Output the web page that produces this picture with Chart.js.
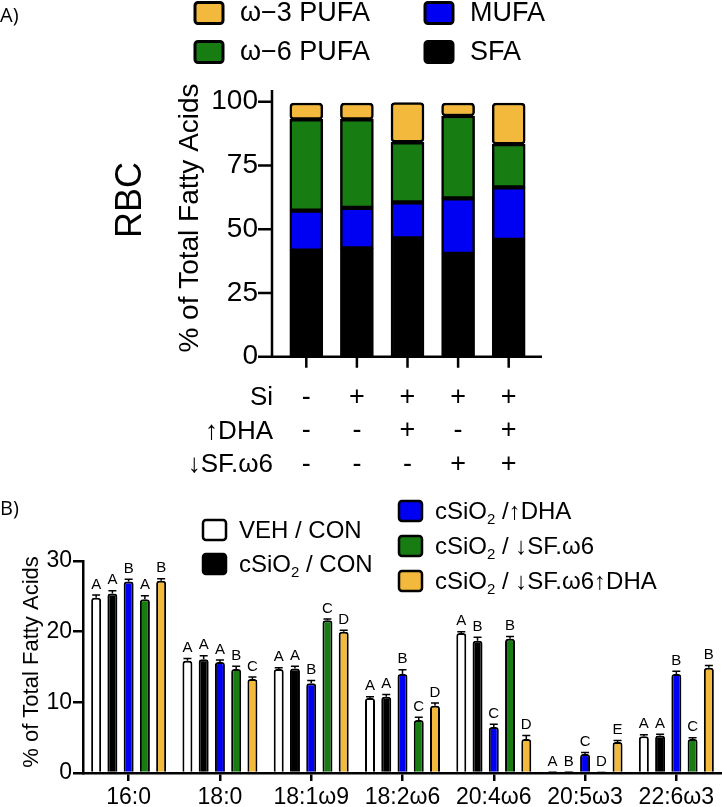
<!DOCTYPE html>
<html>
<head>
<meta charset="utf-8">
<script src="https://cdn.jsdelivr.net/npm/chart.js@4.4.1/dist/chart.umd.min.js"></script>
<style>
  body { margin: 0; background: #fff; }
  #wrap { position: relative; width: 722px; height: 807px; }
  canvas { position: absolute; left: 0; top: 0; }
</style>
</head>
<body>
<div id="wrap">
  <canvas id="chartA" width="722" height="807"></canvas>
  <canvas id="chartB" width="722" height="807"></canvas>
</div>
<script>
// ---- panel A: RBC fatty acid classes (stacked %) ----
const siRow  = ['-', '+', '+', '+', '+'];
const dhaRow = ['-', '-', '+', '-', '+'];
const sfRow  = ['-', '-', '-', '+', '+'];
const rowNames = ['Si', '\u2191DHA', '\u2193SF.\u03c96'];
const sfa  = [41.6, 42.5, 46.4, 40.3, 45.8];
const mufa = [15.7, 15.9, 14.1, 21.8, 20.6];
const n6   = [35.8, 34.7, 23.6, 32.3, 17.0];
const n3   = [6.4, 6.4, 15.6, 5.1, 16.1];
const aTicks = [0, 25, 50, 75, 100];

// ---- panel B: individual fatty acids ----
const fattyAcids = ['16:0', '18:0', '18:1\u03c99', '18:2\u03c96', '20:4\u03c96', '20:5\u03c93', '22:6\u03c93'];
const vehCon  = [24.8, 15.9, 14.7, 10.6, 19.8, 0.1, 5.2];
const siCon   = [25.4, 16.1, 14.8, 10.8, 18.7, 0.1, 5.3];
const siDha   = [27.1, 15.7, 12.7, 14.0, 6.5, 2.7, 14.0];
const siSf    = [24.6, 14.7, 21.6, 7.5, 19.0, 0.05, 4.8];
const siSfDha = [27.2, 13.3, 20.0, 9.5, 4.8, 4.4, 14.9];
const errVeh   = [0.4, 0.3, 0.2, 0.2, 0.2, 0.02, 0.2];
const errSi    = [0.4, 0.5, 0.3, 0.3, 0.5, 0.02, 0.2];
const errDha   = [0.3, 0.3, 0.4, 0.6, 0.4, 0.2, 0.4];
const errSf    = [0.5, 0.4, 0.2, 0.4, 0.3, 0.02, 0.2];
const errSfDha = [0.3, 0.3, 0.2, 0.4, 0.5, 0.2, 0.3];
const letVeh   = ['A', 'A', 'A', 'A', 'A', 'A', 'A'];
const letSi    = ['A', 'A', 'A', 'A', 'B', 'B', 'A'];
const letDha   = ['B', 'A', 'B', 'B', 'C', 'C', 'B'];
const letSf    = ['A', 'B', 'C', 'C', 'B', 'D', 'C'];
const letSfDha = ['B', 'C', 'D', 'D', 'D', 'E', 'B'];
const bTicks = [0, 10, 20, 30];
const seriesB = ['VEH / CON', 'cSiO\u2082 / CON', 'cSiO\u2082 /\u2191DHA', 'cSiO\u2082 / \u2193SF.\u03c96', 'cSiO\u2082 / \u2193SF.\u03c96\u2191DHA'];

const YEL = '#f2b93c', GRN = '#177d12', BLU = '#0000f2';
const FONT = '"Liberation Sans", Arial, sans-serif';
Chart.defaults.font.family = FONT;
Chart.defaults.color = '#000';

function box(ctx, x, y, w, h, fill, lw) {
  ctx.beginPath();
  ctx.roundRect(x, y, w, h, 3);
  ctx.fillStyle = fill;
  ctx.fill();
  ctx.lineWidth = lw;
  ctx.strokeStyle = '#000';
  ctx.stroke();
}

// draws text, the "₂" as a small lowered 2
function subText(ctx, str, x, y, size) {
  const parts = str.split('\u2082');
  let cx = x;
  parts.forEach((p, i) => {
    ctx.font = size + 'px ' + FONT;
    ctx.fillText(p, cx, y);
    cx += ctx.measureText(p).width;
    if (i < parts.length - 1) {
      ctx.font = Math.round(size * 0.62) + 'px ' + FONT;
      ctx.fillText('2', cx, y + size * 0.32);
      cx += ctx.measureText('2').width;
    }
  });
}

function vText(ctx, str, x, y, font) {
  ctx.save();
  ctx.translate(x, y);
  ctx.rotate(-Math.PI / 2);
  ctx.font = font;
  ctx.textAlign = 'center';
  ctx.textBaseline = 'middle';
  ctx.fillText(str, 0, 0);
  ctx.restore();
}

const decorA = {
  id: 'decorA',
  afterDraw(chart) {
    const { ctx, chartArea: area, scales: { x, y } } = chart;
    const left = area.left - 9, right = area.right + 8;
    const y0 = y.getPixelForValue(0);
    ctx.save();
    ctx.strokeStyle = '#000';
    ctx.lineWidth = 2.5;
    ctx.beginPath();
    ctx.moveTo(left, area.top);
    ctx.lineTo(left, y0 + 1.25);
    ctx.moveTo(left - 1.25, y0);
    ctx.lineTo(right, y0);
    aTicks.forEach(v => {
      const p = y.getPixelForValue(v);
      ctx.moveTo(left - 14, p);
      ctx.lineTo(left, p);
    });
    siRow.forEach((s, i) => {
      const p = x.getPixelForValue(i);
      ctx.moveTo(p, y0);
      ctx.lineTo(p, y0 + 11);
    });
    ctx.stroke();

    ctx.fillStyle = '#000';
    ctx.textAlign = 'right';
    ctx.textBaseline = 'middle';
    ctx.font = '26px ' + FONT;
    rowNames.forEach((t, i) => ctx.fillText(t, left + 1, 398 + i * 33.5));

    ctx.textAlign = 'left';
    ctx.font = '20px "Open Sans", sans-serif';
    ctx.fillText('A)', 0, 16);

    vText(ctx, 'RBC', 131, 200, '36px ' + FONT);
    vText(ctx, '% of Total Fatty Acids', 190, 218, '28px ' + FONT);

    // legend
    const items = [
      ['\u03c9\u22123 PUFA', YEL, 195, 13],
      ['\u03c9\u22126 PUFA', GRN, 195, 52],
      ['MUFA', BLU, 425, 13],
      ['SFA', '#000', 425, 52]
    ];
    items.forEach(([t, c, bx, cy]) => {
      box(ctx, bx, cy - 10.5, 28, 21, c, 3);
      ctx.fillStyle = '#000';
      ctx.font = '27px ' + FONT;
      ctx.textBaseline = 'middle';
      ctx.fillText(t, bx + 45, cy + 1);
    });
    ctx.restore();
  }
};

const segA = (label, data, color) => ({
  label, data,
  backgroundColor: color,
  borderColor: '#000',
  borderWidth: 2.5,
  borderSkipped: false,
  borderRadius: 4,
  barThickness: 33
});

new Chart(document.getElementById('chartA'), {
  type: 'bar',
  data: {
    labels: siRow.map((s, i) => [s, dhaRow[i], sfRow[i]]),
    datasets: [
      segA('SFA', sfa, '#000'),
      segA('MUFA', mufa, BLU),
      segA('\u03c9\u22126 PUFA', n6, GRN),
      segA('\u03c9\u22123 PUFA', n3, YEL)
    ]
  },
  options: {
    responsive: false,
    animation: false,
    devicePixelRatio: 1,
    layout: { padding: { top: 90, right: 188, left: 0, bottom: 0 } },
    plugins: { legend: { display: false }, tooltip: { enabled: false } },
    scales: {
      x: {
        stacked: true,
        grid: { display: false, drawTicks: false },
        border: { display: false },
        ticks: { autoSkip: false, maxRotation: 0, padding: 24, font: { size: 27, lineHeight: 1.24 } },
        afterFit: s => { s.height = 807 - 356.7; }
      },
      y: {
        stacked: true,
        min: 0,
        max: 104.6,
        grid: { display: false, drawTicks: false },
        border: { display: false },
        ticks: { padding: 23, font: { size: 28 } },
        afterBuildTicks: s => { s.ticks = aTicks.map(v => ({ value: v })); },
        afterFit: s => { s.width = 281; }
      }
    }
  },
  plugins: [decorA]
});

const errsB = [errVeh, errSi, errDha, errSf, errSfDha];
const lettersB = [letVeh, letSi, letDha, letSf, letSfDha];
const colorsB = ['#fff', '#000', BLU, GRN, YEL];

const decorB = {
  id: 'decorB',
  afterDatasetsDraw(chart) {
    const { ctx, scales: { y } } = chart;
    ctx.save();
    ctx.strokeStyle = '#000';
    ctx.lineWidth = 1.5;
    ctx.fillStyle = '#000';
    ctx.font = '15px ' + FONT;
    ctx.textAlign = 'center';
    ctx.textBaseline = 'bottom';
    chart.data.datasets.forEach((ds, di) => {
      chart.getDatasetMeta(di).data.forEach((bar, i) => {
        const top = y.getPixelForValue(ds.data[i] + errsB[di][i]);
        ctx.beginPath();
        ctx.moveTo(bar.x, bar.y);
        ctx.lineTo(bar.x, top);
        ctx.moveTo(bar.x - bar.width / 2 + 1, top);
        ctx.lineTo(bar.x + bar.width / 2 - 1, top);
        ctx.stroke();
        ctx.fillText(lettersB[di][i], bar.x, top - 3);
      });
    });
    ctx.restore();
  },
  afterDraw(chart) {
    const { ctx } = chart;
    ctx.save();
    ctx.fillStyle = '#000';
    ctx.textBaseline = 'middle';
    ctx.textAlign = 'left';
    ctx.font = '20px "Open Sans", sans-serif';
    ctx.fillText('B)', 0, 509);
    vText(ctx, '% of Total Fatty Acids', 32, 662, '22px ' + FONT);
    const pos = [[203, 530], [203, 564], [399, 511], [399, 546], [399, 581]];
    seriesB.forEach((t, i) => {
      const [bx, cy] = pos[i];
      box(ctx, bx, cy - 10, 23, 20, colorsB[i], 2.5);
      ctx.fillStyle = '#000';
      subText(ctx, t, bx + 36, cy + 1, 24);
    });
    ctx.restore();
  }
};

new Chart(document.getElementById('chartB'), {
  type: 'bar',
  data: {
    labels: fattyAcids,
    datasets: [vehCon, siCon, siDha, siSf, siSfDha].map((d, i) => ({
      label: seriesB[i],
      data: d,
      backgroundColor: colorsB[i],
      borderColor: '#000',
      borderWidth: 2,
      borderRadius: 3,
      categoryPercentage: 0.89,
      barPercentage: 0.615
    }))
  },
  options: {
    responsive: false,
    animation: false,
    devicePixelRatio: 1,
    layout: { padding: { top: 561, right: 0, left: 0, bottom: 0 } },
    plugins: { legend: { display: false }, tooltip: { enabled: false } },
    scales: {
      x: {
        grid: { offset: false, drawOnChartArea: false, tickLength: 8, lineWidth: 2.5, color: '#000' },
        border: { width: 2.5, color: '#000' },
        ticks: { autoSkip: false, maxRotation: 0, padding: 3, font: { size: 23 } },
        afterFit: s => { s.height = 807 - 773; }
      },
      y: {
        min: 0,
        max: 30,
        grid: { drawOnChartArea: false, tickLength: 10, lineWidth: 2.5, color: '#000' },
        border: { width: 2.5, color: '#000' },
        ticks: { padding: 1, font: { size: 23 } },
        afterBuildTicks: s => { s.ticks = bTicks.map(v => ({ value: v })); },
        afterFit: s => { s.width = 83; }
      }
    }
  },
  plugins: [decorB]
});
</script>
</body>
</html>
